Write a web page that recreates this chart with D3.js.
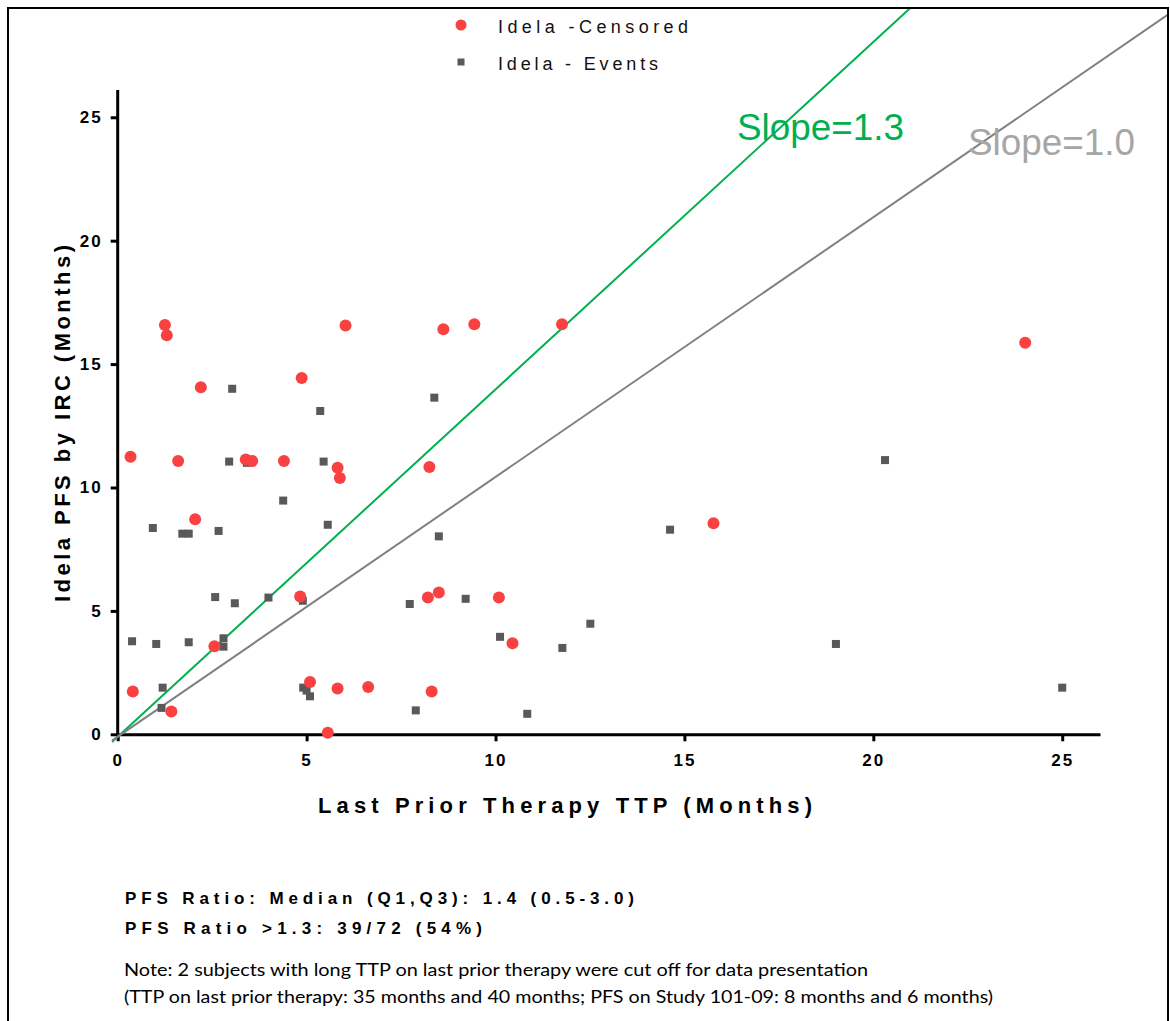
<!DOCTYPE html>
<html lang="en">
<head>
<meta charset="UTF-8">
<title>idela-pfs-vs-ttp</title>
<script src="https://cdn.jsdelivr.net/npm/d3@7"></script>
<style>
    body { margin: 0; background: #fff; }
    svg { display: block; }
    .tick text { font-family: "Liberation Sans", Arial, sans-serif; font-weight: bold; font-size: 17px; letter-spacing: 2px; fill: #000; }
</style>
</head>
<body>
<svg id="chart"></svg>
<script>
// censored points (red circles): last prior therapy TTP vs Idela PFS
var censoredTTP = [1.25, 1.30, 6.03, 4.87, 2.20, 0.34, 1.60, 3.39, 3.56, 4.40, 5.82, 5.88,
    2.05, 4.83, 2.56, 0.40, 1.42, 5.09, 5.82, 6.63, 5.56,
    8.62, 9.44, 11.76, 8.25,
    15.77, 8.21, 8.50, 10.09, 10.45, 8.31, 24.02];
var censoredPFS = [16.58, 16.17, 16.56, 14.44, 14.06, 11.25, 11.07, 11.13, 11.07, 11.07, 10.80, 10.38,
    8.71, 5.58, 3.57, 1.73, 0.92, 2.12, 1.86, 1.92, 0.06,
    16.41, 16.61, 16.61, 10.83,
    8.55, 5.54, 5.75, 5.54, 3.69, 1.73, 15.86];

// event points (gray squares)
var eventTTP = [3.03, 5.36, 2.95, 3.42, 5.45,
    4.38, 0.93, 1.71, 1.88, 2.67, 5.56, 2.58, 3.10, 3.99, 4.90,
    0.38, 1.02, 1.88, 2.80, 2.80, 1.19, 1.16, 4.91, 5.00, 5.09,
    8.38, 8.50, 14.62, 7.73, 9.21, 12.51, 10.12, 11.77, 7.89, 10.84,
    20.31, 19.01, 25.00];
var eventPFS = [14.00, 13.10, 11.05, 11.00, 11.05,
    9.47, 8.36, 8.13, 8.13, 8.24, 8.49, 5.56, 5.31, 5.54, 5.41,
    3.77, 3.66, 3.73, 3.89, 3.55, 1.89, 1.07, 1.89, 1.77, 1.54,
    13.64, 8.02, 8.29, 5.28, 5.49, 4.48, 3.95, 3.50, 0.97, 0.83,
    11.11, 3.66, 1.89];

var xTicks = [0, 5, 10, 15, 20, 25];
var yTicks = [0, 5, 10, 15, 20, 25];

// reference lines as drawn (label, slope)
var refLabels = ["Slope=1.3", "Slope=1.0"];
var refSlopes = [1.405, 1.05];

var legendLabels = ["Idela -Censored", "Idela - Events"];
var statLines = ["PFS Ratio: Median (Q1,Q3): 1.4 (0.5-3.0)", "PFS Ratio >1.3: 39/72 (54%)"];
var noteLines = ["Note: 2 subjects with long TTP on last prior therapy were cut off for data presentation",
    "(TTP on last prior therapy: 35 months and 40 months; PFS on Study 101-09: 8 months and 6 months)"];

var width = 1170, height = 1021;
var red = "#f94141", gray = "#595959", green = "#00b050";

var svg = d3.select("#chart").attr("width", width).attr("height", height);

// frame
svg.append("rect")
    .attr("x", 8).attr("y", 8).attr("width", 1160).attr("height", 1040)
    .attr("fill", "none").attr("stroke", "#000").attr("stroke-width", 2);

svg.append("clipPath").attr("id", "frameClip")
    .append("rect").attr("x", 9).attr("y", 9).attr("width", 1158).attr("height", 1010);

var x = d3.scaleLinear().domain([0, 26]).range([117.7, 1100]);
var y = d3.scaleLinear().domain([0, 26]).range([734.3, 92.6]);

// axes
var xAxis = d3.axisBottom(x).tickValues(xTicks).tickSize(7).tickSizeOuter(0).tickPadding(13);
var yAxis = d3.axisLeft(y).tickValues(yTicks).tickSize(7).tickSizeOuter(0).tickPadding(8);

var gx = svg.append("g").attr("transform", "translate(0," + y(0) + ")").call(xAxis);
var gy = svg.append("g").attr("transform", "translate(" + x(0) + ",0)").call(yAxis);
[gx, gy].forEach(function (g) {
    g.selectAll("path.domain").attr("stroke", "#000").attr("stroke-width", 3);
    g.selectAll(".tick line").attr("stroke", "#000").attr("stroke-width", 3);
});
gy.select("path.domain").attr("d", "M0," + y(0) + "V90");

// reference lines
var lineG = svg.append("g").attr("clip-path", "url(#frameClip)");
var refColors = [green, "#808080"];
refSlopes.forEach(function (s, i) {
    lineG.append("line")
        .attr("x1", x(-0.15)).attr("y1", y(-0.15 * s - 0.1))
        .attr("x2", x(40)).attr("y2", y(40 * s))
        .attr("stroke", refColors[i]).attr("stroke-width", 2);
});

// points
svg.append("g").selectAll("rect")
    .data(eventTTP.map(function (d, i) { return [d, eventPFS[i]]; }))
    .enter().append("rect")
    .attr("x", function (d) { return x(d[0]) - 4; })
    .attr("y", function (d) { return y(d[1]) - 4; })
    .attr("width", 8).attr("height", 8)
    .attr("fill", gray);

svg.append("g").selectAll("circle")
    .data(censoredTTP.map(function (d, i) { return [d, censoredPFS[i]]; }))
    .enter().append("circle")
    .attr("cx", function (d) { return x(d[0]); })
    .attr("cy", function (d) { return y(d[1]); })
    .attr("r", 6)
    .attr("fill", red);

// slope labels
var slopeText = [{x: 737, y: 140, c: green, w: 167}, {x: 968, y: 155, c: "#a6a6a6", w: 167}];
refLabels.forEach(function (t, i) {
    svg.append("text")
        .attr("x", slopeText[i].x).attr("y", slopeText[i].y)
        .attr("textLength", slopeText[i].w).attr("lengthAdjust", "spacingAndGlyphs")
        .style("font-family", "Liberation Sans, Arial, sans-serif")
        .style("font-size", "37px")
        .attr("fill", slopeText[i].c)
        .text(t);
});

// legend
var leg = svg.append("g");
leg.append("circle").attr("cx", 461).attr("cy", 25).attr("r", 5.5).attr("fill", red);
leg.append("rect").attr("x", 457.5).attr("y", 58.5).attr("width", 7).attr("height", 7).attr("fill", gray);
var legW = [190, 160];
legendLabels.forEach(function (t, i) {
    leg.append("text")
        .attr("x", 498).attr("y", 33 + i * 37)
        .attr("textLength", legW[i]).attr("lengthAdjust", "spacing")
        .style("font-family", "Liberation Sans, Arial, sans-serif")
        .style("font-size", "18px")
        .attr("fill", "#111")
        .text(t);
});

// axis titles
svg.append("text")
    .attr("x", 318).attr("y", 813)
    .attr("textLength", 494).attr("lengthAdjust", "spacing")
    .style("font-family", "Liberation Sans, Arial, sans-serif")
    .style("font-size", "22px").style("font-weight", "bold")
    .text("Last Prior Therapy TTP (Months)");

svg.append("text")
    .attr("transform", "translate(70,602) rotate(-90)")
    .attr("x", 0).attr("y", 0)
    .attr("textLength", 357).attr("lengthAdjust", "spacing")
    .style("font-family", "Liberation Sans, Arial, sans-serif")
    .style("font-size", "22px").style("font-weight", "bold")
    .text("Idela PFS by IRC (Months)");

// summary text
var statW = [509, 357];
statLines.forEach(function (t, i) {
    svg.append("text")
        .attr("x", 125).attr("y", 904 + i * 30)
        .attr("textLength", statW[i]).attr("lengthAdjust", "spacing")
        .style("font-family", "Liberation Sans, Arial, sans-serif")
        .style("font-size", "17px").style("font-weight", "bold")
        .text(t);
});

var noteW = [744, 869];
noteLines.forEach(function (t, i) {
    svg.append("text")
        .attr("x", 124).attr("y", 976 + i * 27)
        .attr("textLength", noteW[i]).attr("lengthAdjust", "spacingAndGlyphs")
        .style("font-family", "Lato, sans-serif")
        .style("font-size", "17px")
        .text(t);
});
</script>
</body>
</html>
